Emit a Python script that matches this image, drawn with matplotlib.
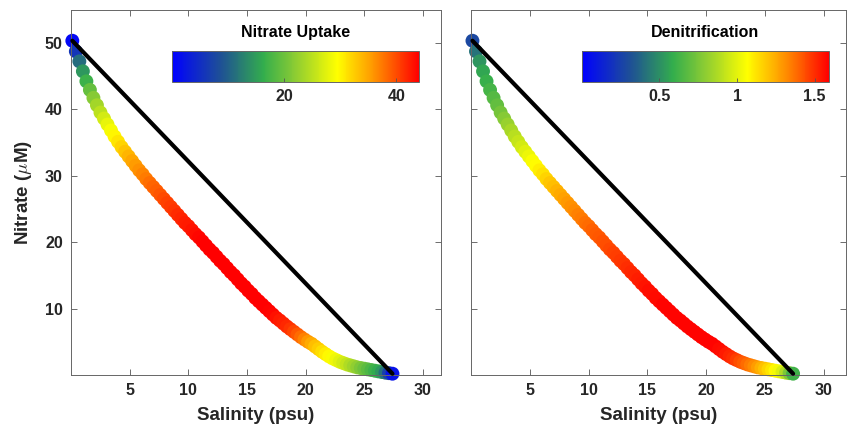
import numpy as np
import matplotlib
matplotlib.use('Agg')
import matplotlib.pyplot as plt
from matplotlib.colors import LinearSegmentedColormap

plt.rcParams['font.family'] = ['Liberation Sans', 'DejaVu Sans']
plt.rcParams['font.weight'] = 'bold'
plt.rcParams['mathtext.fontset'] = 'cm'

# salinity (psu) along the mixing curve
salinity = [0.1, 0.4, 0.7, 1.0, 1.3, 1.6, 1.9, 2.2, 2.5, 2.8,
            3.1, 3.4, 3.7, 4.0, 4.3, 4.6, 4.9, 5.2, 5.5, 5.8,
            6.1, 6.4, 6.7, 7.0, 7.3, 7.6, 7.9, 8.2, 8.5, 8.8,
            9.1, 9.4, 9.7, 10.0, 10.3, 10.6, 10.9, 11.2, 11.5, 11.8,
            12.1, 12.4, 12.7, 13.0, 13.3, 13.6, 13.9, 14.2, 14.5, 14.8,
            15.1, 15.4, 15.7, 16.0, 16.3, 16.6, 16.9, 17.2, 17.5, 17.8,
            18.1, 18.4, 18.7, 19.0, 19.3, 19.6, 19.9, 20.2, 20.5, 20.8,
            21.1, 21.4, 21.7, 22.0, 22.3, 22.6, 22.9, 23.2, 23.5, 23.8,
            24.1, 24.4, 24.7, 25.0, 25.3, 25.6, 25.9, 26.2, 26.5, 26.8,
            27.1, 27.4]

# nitrate (uM) along the curve
nitrate = [50.3, 48.7, 47.2, 45.7, 44.2, 42.9, 41.7, 40.6, 39.5, 38.6,
           37.7, 36.8, 35.9, 35.1, 34.3, 33.6, 32.9, 32.2, 31.5, 30.8,
           30.2, 29.5, 28.9, 28.3, 27.7, 27.1, 26.5, 25.9, 25.3, 24.7,
           24.1, 23.5, 22.9, 22.4, 21.8, 21.2, 20.7, 20.1, 19.5, 18.9,
           18.4, 17.8, 17.2, 16.7, 16.1, 15.5, 15.0, 14.4, 13.8, 13.3,
           12.7, 12.2, 11.6, 11.1, 10.6, 10.1, 9.6, 9.1, 8.6, 8.2,
           7.75, 7.3, 6.9, 6.5, 6.1, 5.7, 5.35, 5.0, 4.7, 4.3,
           3.9, 3.5, 3.15, 2.8, 2.5, 2.25, 2.0, 1.8, 1.6, 1.45,
           1.3, 1.15, 1.05, 0.95, 0.85, 0.75, 0.65, 0.55, 0.45, 0.35,
           0.28, 0.2]

uptake = [1, 6, 11, 14.5, 17, 19.5, 21.5, 23.5, 25, 26.5,
          28, 29, 30, 31, 32, 33, 34, 34.8, 35.5, 36.2,
          36.8, 37.4, 38, 38.5, 39, 39.5, 40, 40.4, 40.8, 41.2,
          41.6, 42, 42.3, 42.6, 42.9, 43.2, 43.5, 43.7, 43.9, 44,
          44, 44, 44, 44, 44, 44, 44, 44, 44, 44,
          44, 44, 44, 44, 44, 44, 43.8, 43.5, 43.1, 42.6,
          42.2, 41.8, 41.2, 40.3, 39.3, 38.2, 37, 35.8, 34.6, 33.5,
          32.5, 31.5, 30.6, 29.9, 29.2, 28.4, 27.5, 26.5, 25.5, 24.4,
          23.3, 22.2, 21.1, 20, 19, 18, 17, 16, 14.5, 11.5,
          7, 2]

denitrification = [0.28, 0.42, 0.52, 0.57, 0.6, 0.63, 0.67, 0.7, 0.74, 0.78,
                   0.82, 0.86, 0.9, 0.93, 0.96, 0.99, 1.02, 1.05, 1.07, 1.1,
                   1.13, 1.16, 1.19, 1.21, 1.23, 1.25, 1.27, 1.29, 1.31, 1.32,
                   1.34, 1.35, 1.37, 1.38, 1.4, 1.41, 1.42, 1.43, 1.44, 1.45,
                   1.46, 1.47, 1.48, 1.49, 1.5, 1.51, 1.52, 1.53, 1.54, 1.55,
                   1.56, 1.56, 1.57, 1.57, 1.58, 1.58, 1.58, 1.58, 1.58, 1.58,
                   1.58, 1.58, 1.58, 1.58, 1.58, 1.58, 1.58, 1.58, 1.58, 1.58,
                   1.57, 1.56, 1.54, 1.52, 1.5, 1.47, 1.44, 1.41, 1.38, 1.35,
                   1.32, 1.28, 1.24, 1.2, 1.16, 1.12, 1.08, 1.04, 0.98, 0.88,
                   0.76, 0.62]

cmap = LinearSegmentedColormap.from_list('nitro', [
    (0.0, (0.0, 0.0, 1.0)),
    (0.2, (0.12, 0.32, 0.58)),
    (0.37, (0.2, 0.68, 0.3)),
    (0.5, (0.55, 0.8, 0.2)),
    (0.67, (1.0, 1.0, 0.0)),
    (0.83, (1.0, 0.55, 0.0)),
    (1.0, (1.0, 0.0, 0.0))])

txt = '#262626'
fig = plt.figure(figsize=(8.49, 4.34), dpi=100)
ax1 = fig.add_axes([0.0838, 0.1359, 0.4351, 0.8422])
ax2 = fig.add_axes([0.5551, 0.1359, 0.4413, 0.8422])

panels = [(ax1, uptake, 'Nitrate Uptake', (0, 44), [20, 40], ['20', '40'], 31.5, 0.2025),
          (ax2, denitrification, 'Denitrification', (0, 1.59), [0.5, 1, 1.5],
           ['0.5', '1', '1.5'], 31.9, 0.6852)]

for ax, vals, title, lims, cticks, clabels, xmax, cx in panels:
    sc = ax.scatter(salinity, nitrate, c=vals, cmap=cmap, vmin=lims[0], vmax=lims[1],
                    s=100, edgecolors='none', clip_on=False, zorder=2)
    ax.plot([salinity[0], salinity[-1]], [nitrate[0], nitrate[-1]], color='k',
            lw=3.0, solid_capstyle='round', zorder=3, clip_on=False)
    ax.set_xlim(0, xmax)
    ax.set_ylim(0, 55)
    ax.set_xticks([5, 10, 15, 20, 25, 30])
    ax.set_yticks([10, 20, 30, 40, 50])
    ax.tick_params(direction='in', length=4, width=0.6, top=True, right=True,
                   labelsize=11.5, colors='#555555', labelcolor=txt, pad=6)
    for sp in ax.spines.values():
        sp.set_color('#666666')
        sp.set_linewidth(0.7)
    ax.set_xlabel('Salinity (psu)', fontsize=13.5, fontweight='bold', color=txt, labelpad=6)

    cax = fig.add_axes([cx, 0.8118, 0.2908, 0.0707])
    cb = fig.colorbar(sc, cax=cax, orientation='horizontal')
    cb.set_ticks(cticks)
    cb.set_ticklabels(clabels)
    cb.outline.set_edgecolor('#666666')
    cb.outline.set_linewidth(0.7)
    cax.tick_params(direction='in', length=3, width=0.6, labelsize=11.5,
                    colors='#555555', labelcolor=txt, pad=5)
    cax.set_title(title, fontsize=11.5, fontweight='bold', color='k', pad=10)

ax2.set_yticklabels([])
ax1.set_ylabel(r'Nitrate ($\mu$M)', fontsize=13.5, fontweight='bold', color=txt, labelpad=8)

fig.savefig('out.png', dpi=100)
